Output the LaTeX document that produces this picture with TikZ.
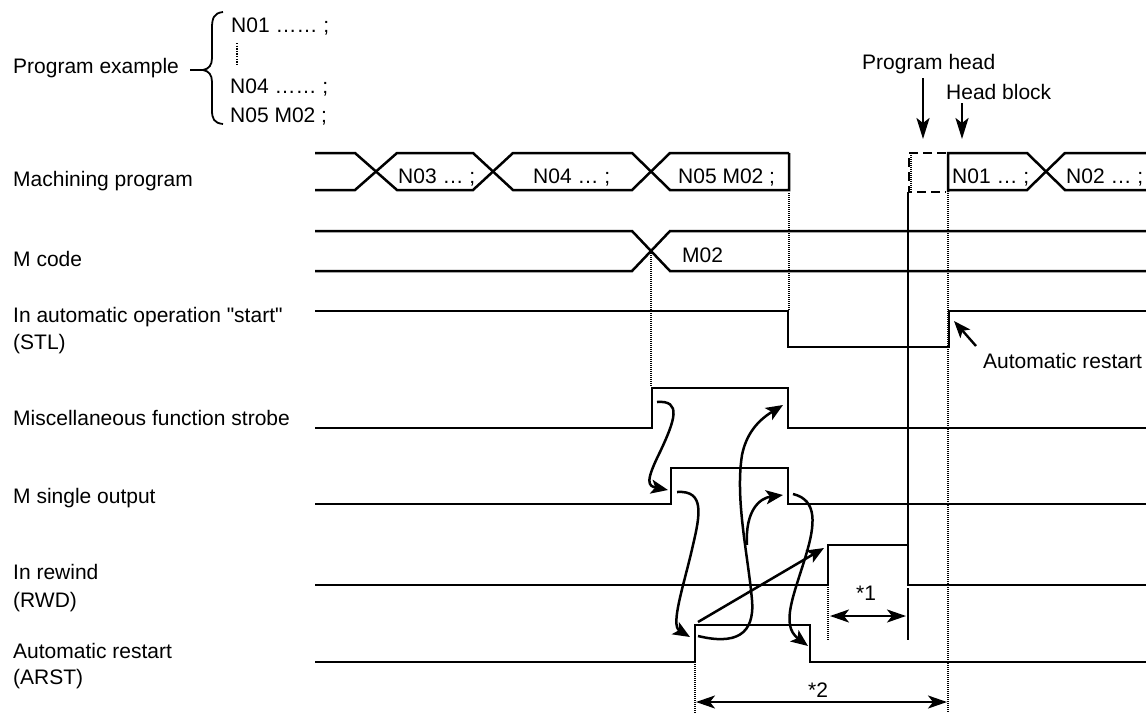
\documentclass[tikz,border=0pt]{standalone}
\usepackage{fontspec}
\setmainfont{Liberation Sans}
\newfontfamily\plainsans{Liberation Sans}
\usetikzlibrary{arrows.meta}
\begin{document}
\begin{tikzpicture}[x=1pt,y=-1pt,
  every node/.style={font=\fontsize{21}{25}\selectfont, inner sep=0pt},
  lbl/.style={anchor=base west},
  sig/.style={line width=2.5pt, line join=miter},
  guide/.style={line width=1.2pt, dash pattern=on 1pt off 1pt},
  curv/.style={line width=2.5pt, -{Stealth[length=17pt,width=14pt,inset=4pt]}},
  dim/.style={line width=2.2pt, {Stealth[length=19pt,width=13pt,inset=5pt]}-{Stealth[length=19pt,width=13pt,inset=5pt]}},
  down/.style={line width=2.4pt, -{Stealth[length=21pt,width=13pt,inset=5pt]}}
]
\useasboundingbox (0,0) rectangle (1146,713);

% ---------- left labels ----------
\node[lbl] (lpe) at (13,73) {Program example};
\node[lbl] (lmp) at (13,186.5) {Machining program};
\node[lbl] (lmc) at (13,266.5) {M code};
\node[lbl] (lstl) at (13,322) {\plainsans In automatic operation "start"};
\node[lbl] (lstl2) at (13,349.5) {(STL)};
\node[lbl] (lmfs) at (13,425.5) {Miscellaneous function strobe};
\node[lbl] (lmso) at (13,503.5) {M single output};
\node[lbl] (lrwd) at (13,579.5) {In rewind};
\node[lbl] (lrwd2) at (13,607.5) {(RWD)};
\node[lbl] (larst) at (13,658.5) {Automatic restart};
\node[lbl] (larst2) at (13,684.5) {(ARST)};

% ---------- program example ----------
\node[lbl] (p1) at (231,32) {N01 …… ;};
\node[lbl] (p4) at (230,93) {N04 …… ;};
\node[lbl] (p5) at (230,122) {N05 M02 ;};
\draw[line width=1.6pt, dash pattern=on 1.3pt off 1.3pt] (237,43) -- (237,65);
\coordinate (btip) at (203,70);
\coordinate (bstart) at (190,70);
\draw[line width=1.8pt] (223,12) .. controls (214,13) and (212,18) .. (212,28)
  -- (212,58) .. controls (212,65) and (209,69) .. (btip)
  .. controls (209,71) and (212,75) .. (212,82)
  -- (212,110) .. controls (212,119) and (214,123) .. (223,124);
\draw[line width=1.8pt] (bstart) -- (btip);

% ---------- machining program ----------
\draw[sig] (315,153) -- (355,153) -- (397,190) -- (473,190) -- (513,153) -- (632,153) -- (670,190) -- (789,190) -- (789,153);
\draw[sig] (315,190) -- (355,190) -- (397,153) -- (473,153) -- (513,190) -- (632,190) -- (670,153) -- (789,153);
\node[lbl] (n03) at (398,183) {N03 … ;};
\node[lbl] (n04) at (533,183) {N04 … ;};
\node[lbl] (n05) at (678,183) {N05 M02 ;};
\draw[sig] (948,192) -- (948,153) -- (1027,153) -- (1065,190) -- (1146,190);
\draw[sig] (948,190) -- (1027,190) -- (1065,153) -- (1146,153);
\draw[line width=2.5pt, dash pattern=on 9pt off 5pt] (946,153) -- (909,153) -- (909,192) -- (946,192);
\draw[guide] (911,153) -- (911,192);
\node[lbl] (n01) at (952,183) {N01 … ;};
\node[lbl] (n02) at (1066,183) {N02 … ;};

% ---------- program head / head block ----------
\node[lbl] (ph) at (862,69) {Program head};
\node[lbl] (hb) at (946,99) {Head block};
\coordinate (pha) at (923,78);
\coordinate (phb) at (923,139);
\coordinate (hba) at (962,103);
\coordinate (hbb) at (962,139);
\draw[down] (pha) -- (phb);
\draw[down] (hba) -- (hbb);

% ---------- M code ----------
\draw[sig] (315,231) -- (632,231) -- (670,271) -- (1146,271);
\draw[sig] (315,271) -- (632,271) -- (670,231) -- (1146,231);
\node[lbl] (m02) at (682,262) {M02};

% ---------- STL ----------
\draw[sig] (315,311) -- (788,311) -- (788,347) -- (949,347) -- (949,311) -- (1146,311);
\node[lbl] (ar) at (983,368) {Automatic restart};
\coordinate (ara) at (976,346);
\coordinate (arb) at (954,321);
\draw[line width=2.4pt, -{Stealth[length=17pt,width=13pt,inset=4pt]}] (ara) -- (arb);

% ---------- strobe ----------
\draw[sig] (315,428) -- (652,428) -- (652,388) -- (788,388) -- (788,428) -- (1146,428);
% ---------- M single output ----------
\draw[sig] (315,504) -- (671,504) -- (671,468) -- (788,468) -- (788,504) -- (1146,504);
% ---------- RWD ----------
\draw[sig] (315,585) -- (828,585) -- (828,545) -- (908,545) -- (908,585) -- (1146,585);
\draw[sig] (908,192) -- (908,545);
% ---------- ARST ----------
\draw[sig] (315,662) -- (695,662) -- (695,625) -- (810,625) -- (810,662) -- (1146,662);

% ---------- guide lines ----------
\draw[guide] (651,253) -- (651,386);
\draw[guide] (789,193) -- (789,310);
\draw[guide] (948,193) -- (948,713);
\draw[guide] (828,587) -- (828,640);
\draw[guide] (695,664) -- (695,713);

% ---------- dimensions ----------
\draw[line width=2.2pt] (908,588) -- (908,640);
\coordinate (d1a) at (830,616);
\coordinate (d1b) at (906,616);
\draw[dim] (d1a) -- (d1b);
\node[lbl] (s1) at (856,600) {*1};
\coordinate (d2a) at (696,702);
\coordinate (d2b) at (947,702);
\draw[dim] (d2a) -- (d2b);
\node[lbl] (s2) at (808,697) {*2};

% ---------- causal arrows ----------
\coordinate (c1s) at (657,402);
\coordinate (c1e) at (668,490);
\draw[curv] (c1s) .. controls (682,400) and (675,420) .. (660,452) .. controls (645,482) and (648,486) .. (c1e);
\coordinate (c2s) at (677,492);
\coordinate (c2e) at (690,637);
\draw[curv] (c2s) .. controls (705,490) and (700,515) .. (693,545) .. controls (684,585) and (670,625) .. (c2e);
\coordinate (c3s) at (698,636);
\coordinate (c3e) at (783,405);
\draw[curv] (c3s) .. controls (735,645) and (755,635) .. (752,600) .. controls (748,555) and (735,500) .. (742,455) .. controls (747,430) and (762,418) .. (c3e);
\coordinate (c4s) at (747,545);
\coordinate (c4e) at (783,495);
\draw[curv] (c4s) .. controls (745,510) and (760,498) .. (c4e);
\coordinate (c5s) at (793,494);
\coordinate (c5e) at (808,646);
\draw[curv] (c5s) .. controls (818,500) and (815,525) .. (806,555) .. controls (794,595) and (780,625) .. (c5e);
\coordinate (c6s) at (698,622);
\coordinate (c6e) at (824,548);
\draw[curv] (c6s) -- (c6e);
\end{tikzpicture}
\end{document}
